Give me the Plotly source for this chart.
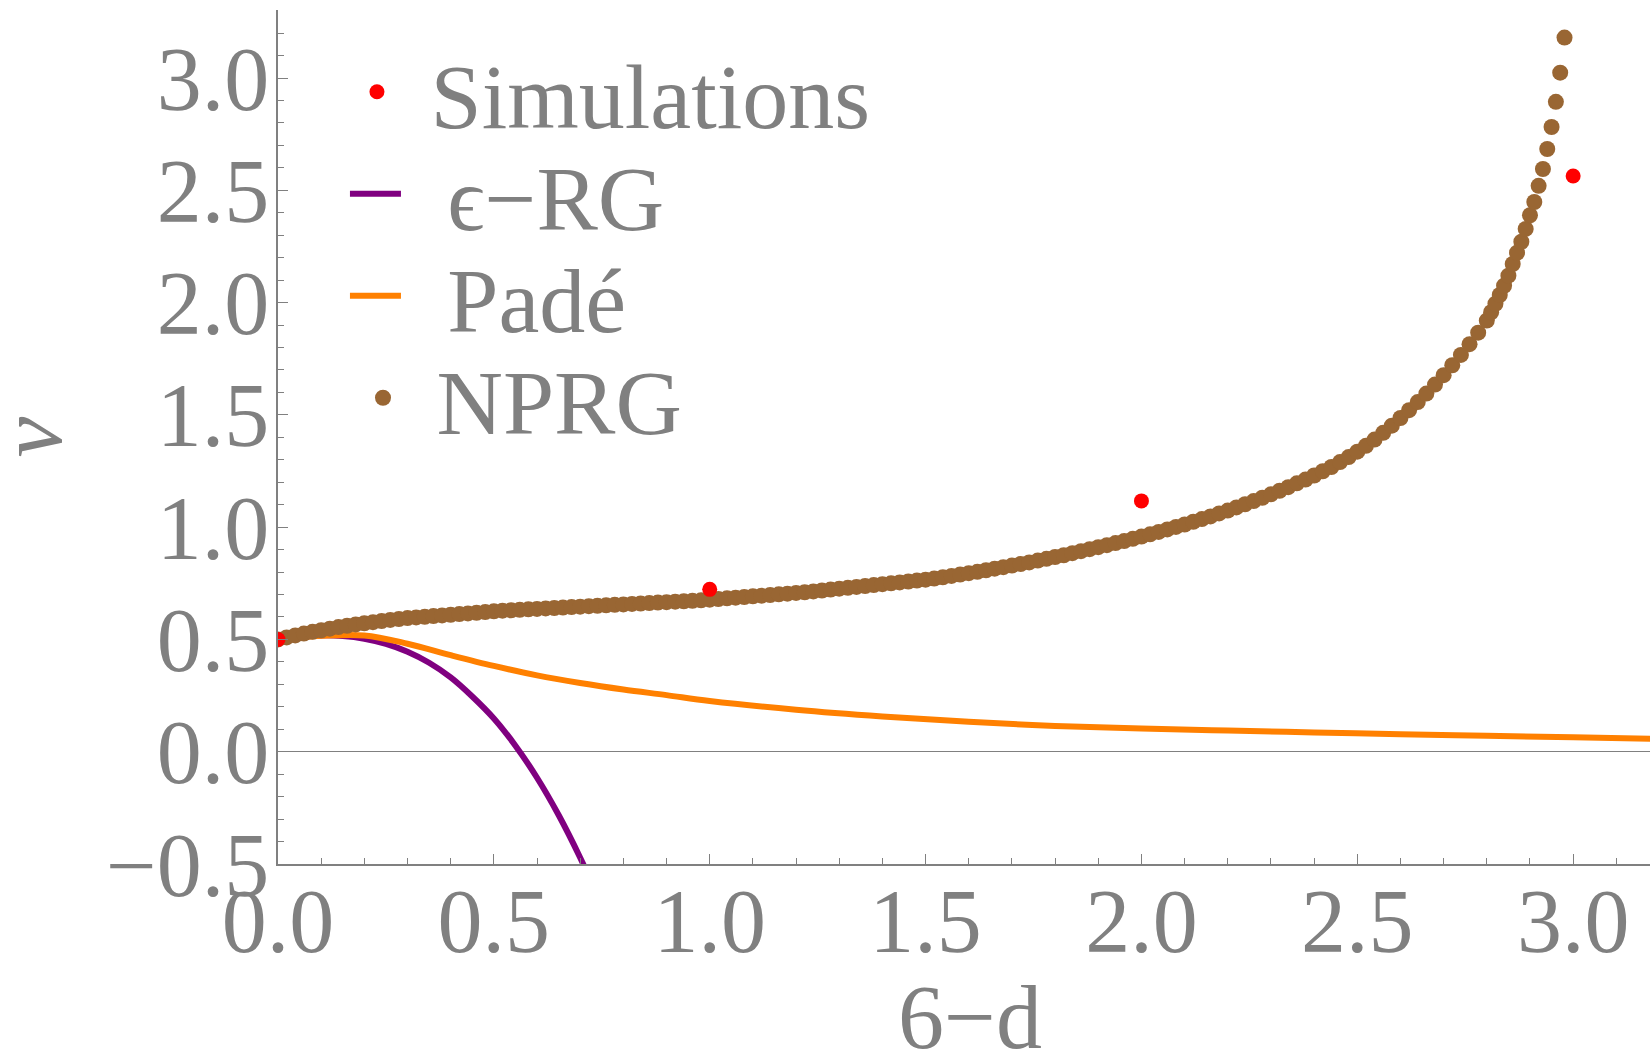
import plotly.graph_objects as go

# ---------------- data ----------------
sim_x = [0.0, 1.0, 2.0, 3.0]
sim_nu = [0.500, 0.723, 1.117, 2.564]

eps_x = [0.00, 0.05, 0.10, 0.15, 0.20, 0.25, 0.30, 0.35, 0.40, 0.45, 0.50, 0.55, 0.60, 0.65, 0.70, 0.72]
eps_nu = [0.500, 0.512, 0.518, 0.515, 0.503, 0.480, 0.445, 0.396, 0.331, 0.246, 0.148, 0.027,
          -0.116, -0.282, -0.472, -0.556]

pade_x = [0.00, 0.10, 0.20, 0.30, 0.40, 0.50, 0.60, 0.70, 0.80, 0.90, 1.00, 1.20, 1.40,
          1.60, 1.80, 2.00, 2.20, 2.40, 2.60, 2.80, 3.00, 3.20]
pade_nu = [0.500, 0.516, 0.518, 0.481, 0.430, 0.382, 0.340, 0.306, 0.277, 0.252, 0.226,
           0.187, 0.157, 0.133, 0.115, 0.103, 0.094, 0.086, 0.078, 0.071, 0.064, 0.057]

nprg_x = [round(0.02 * i, 2) for i in range(141)] + [round(2.80 + 0.01 * i, 2) for i in range(1, 19)]
nprg_nu = [
    0.500, 0.509, 0.518, 0.526, 0.534, 0.541, 0.548, 0.555, 0.561, 0.567,
    0.572, 0.577, 0.582, 0.587, 0.591, 0.595, 0.598, 0.601, 0.604, 0.607,
    0.610, 0.613, 0.616, 0.619, 0.622, 0.625, 0.628, 0.630, 0.632, 0.634,
    0.636, 0.638, 0.640, 0.642, 0.644, 0.646, 0.648, 0.650, 0.652, 0.654,
    0.656, 0.658, 0.660, 0.662, 0.664, 0.666, 0.668, 0.670, 0.672, 0.674,
    0.677, 0.680, 0.683, 0.686, 0.689, 0.692, 0.695, 0.698, 0.701, 0.704,
    0.707, 0.710, 0.714, 0.718, 0.722, 0.726, 0.730, 0.734, 0.738, 0.742,
    0.746, 0.750, 0.754, 0.758, 0.762, 0.766, 0.771, 0.777, 0.783, 0.789,
    0.795, 0.801, 0.808, 0.815, 0.822, 0.829, 0.836, 0.843, 0.851, 0.859,
    0.867, 0.875, 0.884, 0.893, 0.902, 0.911, 0.920, 0.929, 0.938, 0.948,
    0.958, 0.968, 0.979, 0.990, 1.001, 1.012, 1.024, 1.036, 1.048, 1.061,
    1.074, 1.088, 1.102, 1.116, 1.131, 1.146, 1.162, 1.178, 1.195, 1.212,
    1.230, 1.249, 1.268, 1.290, 1.312, 1.336, 1.362, 1.390, 1.420, 1.452,
    1.486, 1.521, 1.557, 1.595, 1.635, 1.677, 1.721, 1.767, 1.815, 1.866,
    1.920,
    1.957, 1.995, 2.034, 2.075, 2.120, 2.172, 2.222, 2.271, 2.328, 2.389,
    2.448, 2.520, 2.595, 2.684, 2.782, 2.894, 3.024, 3.180,
]

x_range = [0.0, 3.178]
y_range = [-0.5, 3.303]
x_title = "6−d"
y_title = "<i>ν</i>"

GRAY = "#808080"
FONT = "Liberation Serif"
TICK_FS = 90
TEXT_FS = 92
SP = "\u00a0"

fig = go.Figure()
fig.add_trace(go.Scatter(x=eps_x, y=eps_nu, mode="lines", name=SP + "\u2009ϵ−RG",
                         line=dict(color="#800080", width=6, shape="spline"), legend="legend2"))
fig.add_trace(go.Scatter(x=pade_x, y=pade_nu, mode="lines", name=SP + "\u2009Padé",
                         line=dict(color="#ff8000", width=6, shape="spline"), legend="legend3"))
fig.add_trace(go.Scatter(x=nprg_x, y=nprg_nu, mode="markers", name=SP + "NPRG",
                         marker=dict(color="#996633", size=16), legend="legend4"))
fig.add_trace(go.Scatter(x=sim_x, y=sim_nu, mode="markers", name=SP + "Simulations",
                         marker=dict(color="#ff0000", size=15), legend="legend"))

axis_common = dict(
    showline=True, linecolor=GRAY, linewidth=1.5, mirror=False, automargin=False,
    ticks="inside", tickcolor=GRAY, tickwidth=1.2, ticklen=10,
    showgrid=False, tickformat=".1f",
    tickfont=dict(family=FONT, size=TICK_FS, color=GRAY),
)


def leg(x, y):
    return dict(x=x, y=y, xanchor="left", yanchor="middle", bgcolor="rgba(0,0,0,0)",
                itemwidth=51, font=dict(family=FONT, size=TEXT_FS, color=GRAY))


fig.update_layout(
    width=1650, height=1063,
    margin=dict(l=278, r=0, t=10, b=199, autoexpand=False),
    paper_bgcolor="white", plot_bgcolor="white",
    showlegend=True,
    legend=leg(0.0499, 0.9040),
    legend2=leg(0.0488, 0.7846),
    legend3=leg(0.0488, 0.6652),
    legend4=leg(0.0543, 0.5457),
    xaxis=dict(**axis_common, range=x_range, tick0=0, dtick=0.5, zeroline=False,
               ticklabelstandoff=-22,
               minor=dict(dtick=0.1, ticks="inside", ticklen=6, tickcolor=GRAY, tickwidth=1)),
    xaxis2=dict(overlaying="x", side="top", range=x_range, showline=True, linecolor=GRAY,
                linewidth=1.5, ticks="inside", tickcolor=GRAY, tickwidth=1.2, ticklen=10,
                tickvals=[0, 1, 2, 3], showticklabels=False, showgrid=False, zeroline=False,
                minor=dict(dtick=0.2, tick0=0, ticks="inside", ticklen=5, tickcolor=GRAY, tickwidth=1)),
    yaxis=dict(**axis_common, range=y_range, tick0=0, dtick=0.5,
               zeroline=True, zerolinecolor=GRAY, zerolinewidth=1, ticklabelstandoff=-11,
               minor=dict(dtick=0.1, ticks="inside", ticklen=6, tickcolor=GRAY, tickwidth=1)),
    annotations=[
        dict(text=x_title, xref="paper", yref="paper", x=0.5044, y=-0.1751,
             xanchor="center", yanchor="middle", showarrow=False,
             height=96, valign="top",
             font=dict(family=FONT, size=TEXT_FS, color=GRAY)),
        dict(text=y_title, xref="paper", yref="paper", x=-0.1716, y=0.5,
             xanchor="center", yanchor="middle", showarrow=False, textangle=-90,
             height=76, valign="bottom",
             font=dict(family=FONT, size=TEXT_FS, color=GRAY)),
    ],
)

fig.write_html("out.html")
